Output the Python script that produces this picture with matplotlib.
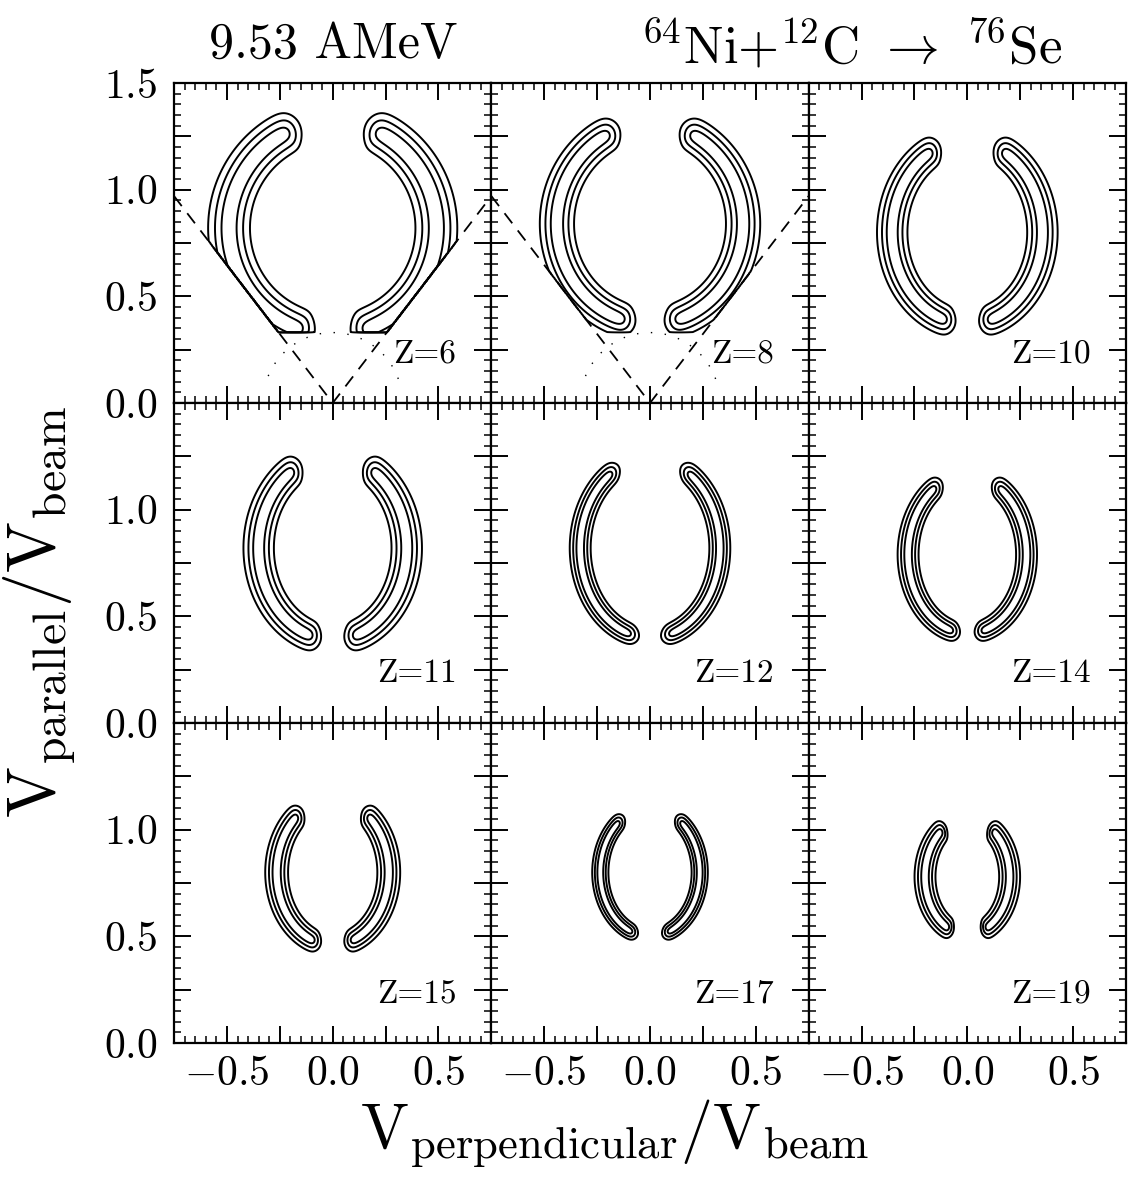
import numpy as np
import matplotlib
matplotlib.use('Agg')
import matplotlib.pyplot as plt
from matplotlib.ticker import MultipleLocator, FuncFormatter

plt.rcParams['font.family'] = 'cmr10'
plt.rcParams['mathtext.fontset'] = 'cm'
plt.rcParams['axes.unicode_minus'] = True

# fragment charge per panel, row by row
panel_z = [6, 8, 10, 11, 12, 14, 15, 17, 19]

# Coulomb ring of each charge: centre on the beam axis, half axes, width
ring_yc = [0.82, 0.84, 0.80, 0.82, 0.82, 0.79, 0.80, 0.80, 0.78]
ring_a = [0.49, 0.44, 0.355, 0.35, 0.33, 0.28, 0.265, 0.235, 0.20]
ring_b = [0.50, 0.47, 0.43, 0.43, 0.42, 0.37, 0.34, 0.30, 0.27]
ring_width = [0.044, 0.036, 0.032, 0.032, 0.022, 0.022, 0.024, 0.017, 0.022]
# angular extent of the arcs, degrees from the beam direction
arc_top = [23, 24, 26, 30, 31, 30, 37, 36, 35]
arc_bottom = [165, 166, 166, 166, 166, 168, 163, 161, 156]

# detector acceptance drawn for the two lightest fragments
cut_panels = [6, 8]
cone_x = [-0.75, 0.0, 0.75]
cone_y = [0.97, 0.0, 0.97]
v_par_cut = 0.33
coulomb_r = 0.33
coulomb_ang = [20, 160]

levels = [0.08, 0.32, 0.72]

xg = np.linspace(-0.75, 0.75, 601)
yg = np.linspace(0.0, 1.5, 601)
X, Y = np.meshgrid(xg, yg)


def ring_density(yc, a, b, s, th1, th2):
    ax_ = np.abs(X)
    u = ax_ / a
    v = (Y - yc) / b
    rho = np.sqrt(u**2 + v**2) + 1e-9
    grad = np.sqrt((ax_ / a**2)**2 + ((Y - yc) / b**2)**2) / rho + 1e-9
    d = (rho - 1) / grad
    th = np.degrees(np.arctan2(u, v))
    w = 2.0
    win = 1 / (1 + np.exp(-(th - th1) / w)) / (1 + np.exp(-(th2 - th) / w))
    return np.exp(-0.5 * (d / s)**2) * win


def fmt_x(v, pos):
    v = round(v, 2) + 0.0
    if abs(v * 2 - round(v * 2)) < 1e-6 and abs(v) < 0.7:
        return '$%.1f$' % v
    return ''


def make_fmt_y(show_top):
    def f(v, pos):
        v = round(v, 2) + 0.0
        if abs(v * 2 - round(v * 2)) < 1e-6 and (v < 1.4 or show_top):
            return '$%.1f$' % v
        return ''
    return f


fig, axes = plt.subplots(3, 3, figsize=(11.28, 11.77), dpi=100)
fig.subplots_adjust(left=0.1543, right=0.9982, bottom=0.1138, top=0.9295,
                    wspace=0, hspace=0)

for i, ax in enumerate(axes.flat):
    row, col = divmod(i, 3)
    z = panel_z[i]
    dens = ring_density(ring_yc[i], ring_a[i], ring_b[i], ring_width[i],
                        arc_top[i], arc_bottom[i])
    if z in cut_panels:
        slope = cone_y[0] / abs(cone_x[0])
        dens = dens * (Y > v_par_cut) * (np.abs(X) * slope < Y)
        ax.plot(cone_x, cone_y, color='k', lw=1.3, dashes=(7, 5))
        t = np.radians(np.linspace(coulomb_ang[0], coulomb_ang[1], 120))
        ax.plot(coulomb_r * np.cos(t), coulomb_r * np.sin(t), color='k',
                lw=1.0, dashes=(1, 9))
    ax.contour(X, Y, dens, levels=levels, colors='k', linewidths=1.4)

    ax.text(0.585, 0.23, 'Z=%d' % z, ha='right', va='center', fontsize=24)

    ax.set_xlim(-0.75, 0.75)
    ax.set_ylim(0, 1.5)
    ax.xaxis.set_major_locator(MultipleLocator(0.25))
    ax.xaxis.set_minor_locator(MultipleLocator(0.05))
    ax.yaxis.set_major_locator(MultipleLocator(0.25))
    ax.yaxis.set_minor_locator(MultipleLocator(0.05))
    ax.xaxis.set_major_formatter(FuncFormatter(fmt_x))
    ax.yaxis.set_major_formatter(FuncFormatter(make_fmt_y(row == 0)))
    ax.tick_params(which='both', direction='in', top=True, right=True,
                   labelsize=30)
    ax.tick_params(which='major', length=12, width=1.4)
    ax.tick_params(which='minor', length=5, width=1.1)
    ax.tick_params(axis='y', pad=12)
    ax.tick_params(axis='x', pad=9)
    ax.tick_params(labelbottom=(row == 2), labelleft=(col == 0))
    for sp in ax.spines.values():
        sp.set_linewidth(1.6)

fig.text(0.295, 0.962, '9.53 AMeV', ha='center', va='center', fontsize=36)
fig.text(0.755, 0.962, r'$^{64}$Ni+$^{12}$C $\rightarrow$ $^{76}$Se',
         ha='center', va='center', fontsize=38)
fig.text(0.545, 0.037, r'V$_{\mathrm{perpendicular}}$/V$_{\mathrm{beam}}$',
         ha='center', va='center', fontsize=46)
fig.text(0.035, 0.48, r'V$_{\mathrm{parallel}}$/V$_{\mathrm{beam}}$',
         ha='center', va='center', rotation=90, fontsize=49)

fig.savefig('out.png', dpi=100)
